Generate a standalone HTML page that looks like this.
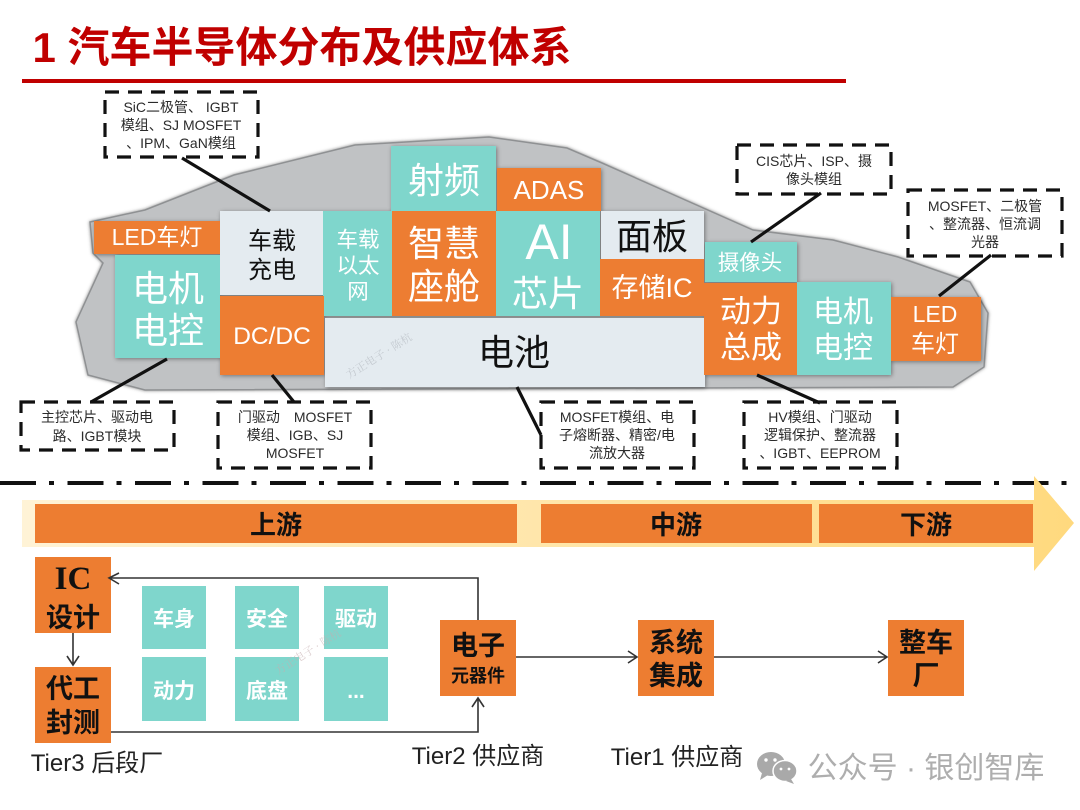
<!DOCTYPE html>
<html lang="zh">
<head>
<meta charset="utf-8">
<style>
html,body{margin:0;padding:0;background:#fff;width:1080px;height:810px;overflow:hidden}
svg{display:block;filter:blur(.35px)}
text{font-family:"Liberation Sans","Noto Sans CJK SC",sans-serif;text-anchor:middle}
.w{fill:#fff}
.k{fill:#111}
.s{font-size:14px;fill:#2b2b2b}
.b{font-weight:700;fill:#111}
.box{filter:url(#sh)}
.dash{fill:none;stroke:#111;stroke-width:3.2;stroke-dasharray:14 9}
.ln{stroke:#111;stroke-width:3.2;fill:none}
.cn{stroke:#333;stroke-width:1.6;fill:none}
</style>
</head>
<body>
<svg width="1080" height="810" viewBox="0 0 1080 810" xmlns="http://www.w3.org/2000/svg">
<defs>
<filter id="sh" x="-20%" y="-20%" width="140%" height="140%"><feDropShadow dx="1" dy="1" stdDeviation="2" flood-color="#000" flood-opacity=".4"/></filter>
<filter id="carsh" x="-5%" y="-5%" width="110%" height="110%"><feDropShadow dx="0" dy="0" stdDeviation="1.5" flood-color="#555" flood-opacity=".7"/></filter>
<linearGradient id="band" x1="0" x2="1" y1="0" y2="0"><stop offset="0" stop-color="#FFF3D6"/><stop offset="1" stop-color="#FFD97E"/></linearGradient>
</defs>

<text x="302" y="62" style="font-size:42px;font-weight:700;fill:#C00000">1 汽车半导体分布及供应体系</text>
<rect x="22" y="79" width="824" height="4" fill="#C00000"/>

<polygon points="90,222 145,210 234,175 355,145 489,137 567,148 602,163 753,230 833,240 898,257 970,282 988,313 984,367 953,387 145,390 88,375 76,322 103,263 93,253" fill="#C0C2C4" stroke="#8f9193" stroke-width="1.5" filter="url(#carsh)"/>

<g class="box">
<rect x="391" y="146" width="105" height="65" fill="#7FD6CC"/>
<rect x="497" y="168" width="104" height="43" fill="#ED7D31"/>
<rect x="94" y="221" width="126" height="33" fill="#ED7D31"/>
<rect x="115" y="255" width="105" height="103" fill="#7FD6CC"/>
<rect x="323" y="211" width="69" height="105" fill="#7FD6CC"/>
<rect x="220" y="211" width="103" height="84" fill="#E4EBF0"/>
<rect x="392" y="211" width="104" height="105" fill="#ED7D31"/>
<rect x="496" y="211" width="104" height="105" fill="#7FD6CC"/>
<rect x="325" y="318" width="380" height="69" fill="#E4EBF0"/>
<rect x="220" y="296" width="104" height="79" fill="#ED7D31"/>
<rect x="601" y="211" width="103" height="48" fill="#E4EBF0"/>
<rect x="600" y="259" width="104" height="57" fill="#ED7D31"/>
<rect x="705" y="242" width="92" height="40" fill="#7FD6CC"/>
<rect x="704" y="283" width="93" height="92" fill="#ED7D31"/>
<rect x="797" y="282" width="94" height="93" fill="#7FD6CC"/>
<rect x="891" y="297" width="90" height="64" fill="#ED7D31"/>
</g>

<text class="w" x="444" y="193" style="font-size:36px">射频</text>
<text class="w" x="549" y="199" style="font-size:26px">ADAS</text>
<text class="w" x="157" y="245" style="font-size:23px">LED车灯</text>
<text class="w" x="168" y="301" style="font-size:36px">电机</text>
<text class="w" x="168" y="343" style="font-size:36px">电控</text>
<text class="k" x="272" y="249" style="font-size:24px">车载</text>
<text class="k" x="272" y="278" style="font-size:24px">充电</text>
<text class="w" x="358" y="247" style="font-size:21.5px">车载</text>
<text class="w" x="358" y="273" style="font-size:21.5px">以太</text>
<text class="w" x="358" y="299" style="font-size:21.5px">网</text>
<text class="w" x="444" y="256" style="font-size:36px">智慧</text>
<text class="w" x="444" y="299" style="font-size:36px">座舱</text>
<text class="w" x="549" y="259" style="font-size:50px">AI</text>
<text class="w" x="548" y="306" style="font-size:36px">芯片</text>
<text class="k" x="652" y="249" style="font-size:36px">面板</text>
<text class="w" x="652" y="297" style="font-size:27px">存储IC</text>
<text class="w" x="272" y="344" style="font-size:24.5px">DC/DC</text>
<text class="k" x="514" y="365" style="font-size:36px">电池</text>
<text class="w" x="750" y="270" style="font-size:21.5px">摄像头</text>
<text class="w" x="751" y="322" style="font-size:31px">动力</text>
<text class="w" x="751" y="358" style="font-size:31px">总成</text>
<text class="w" x="843" y="322" style="font-size:30px">电机</text>
<text class="w" x="843" y="358" style="font-size:30px">电控</text>
<text class="w" x="935" y="322" style="font-size:23px">LED</text>
<text class="w" x="935" y="352" style="font-size:24px">车灯</text>
<text x="381" y="359" transform="rotate(-32 381 359)" style="font-size:11px;fill:#c4cad0;font-family:'Liberation Serif','Noto Serif CJK SC',serif">方正电子 · 陈杭</text>

<path class="ln" d="M182 158L270 211M167 359L91 402M272 375L294 402M517 387L541 435M821 193L751 242M991 255L939 296M757 375L820 403"/>

<rect class="dash" x="105" y="92" width="153" height="65"/>
<text class="s" x="181" y="112">SiC二极管、 IGBT</text>
<text class="s" x="181" y="130">模组、SJ MOSFET</text>
<text class="s" x="181" y="148">、IPM、GaN模组</text>

<rect class="dash" x="21" y="402" width="153" height="48"/>
<text class="s" x="97" y="422">主控芯片、驱动电</text>
<text class="s" x="97" y="441">路、IGBT模块</text>

<rect class="dash" x="218" y="402" width="153" height="66"/>
<text class="s" x="295" y="422">门驱动　MOSFET</text>
<text class="s" x="295" y="440">模组、IGB、SJ</text>
<text class="s" x="295" y="458">MOSFET</text>

<rect class="dash" x="541" y="402" width="153" height="66"/>
<text class="s" x="617" y="422">MOSFET模组、电</text>
<text class="s" x="617" y="440">子熔断器、精密/电</text>
<text class="s" x="617" y="458">流放大器</text>

<rect class="dash" x="744" y="402" width="153" height="66"/>
<text class="s" x="820" y="422">HV模组、门驱动</text>
<text class="s" x="820" y="440">逻辑保护、整流器</text>
<text class="s" x="820" y="458">、IGBT、EEPROM</text>

<rect class="dash" x="737" y="145" width="154" height="49"/>
<text class="s" x="814" y="166">CIS芯片、ISP、摄</text>
<text class="s" x="814" y="184">像头模组</text>

<rect class="dash" x="908" y="190" width="154" height="66"/>
<text class="s" x="985" y="211">MOSFET、二极管</text>
<text class="s" x="985" y="229">、整流器、恒流调</text>
<text class="s" x="985" y="247">光器</text>

<path d="M0 483H1080" stroke="#111" stroke-width="4" stroke-dasharray="36 13 5 13.5" fill="none"/>

<path d="M22 500H1034V476L1074 523L1034 571V547H22Z" fill="url(#band)"/>
<rect x="35" y="504" width="482" height="39" fill="#ED7D31"/>
<rect x="541" y="504" width="271" height="39" fill="#ED7D31"/>
<rect x="819" y="504" width="214" height="39" fill="#ED7D31"/>
<text class="b" x="276" y="534" style="font-size:26px">上游</text>
<text class="b" x="676" y="534" style="font-size:26px">中游</text>
<text class="b" x="926" y="534" style="font-size:26px">下游</text>

<rect x="35" y="557" width="76" height="76" fill="#ED7D31"/>
<rect x="35" y="667" width="76" height="76" fill="#ED7D31"/>
<rect x="440" y="620" width="76" height="76" fill="#ED7D31"/>
<rect x="638" y="620" width="76" height="76" fill="#ED7D31"/>
<rect x="888" y="620" width="76" height="76" fill="#ED7D31"/>
<g fill="#7FD6CC">
<rect x="142" y="586" width="64" height="63"/>
<rect x="235" y="586" width="64" height="63"/>
<rect x="324" y="586" width="64" height="63"/>
<rect x="142" y="657" width="64" height="64"/>
<rect x="235" y="657" width="64" height="64"/>
<rect x="324" y="657" width="64" height="64"/>
</g>
<text class="b" x="73" y="589" style="font-size:33px;font-family:'Liberation Serif',serif">IC</text>
<text class="b" x="73" y="627" style="font-size:27px">设计</text>
<text class="b" x="73" y="698" style="font-size:27px">代工</text>
<text class="b" x="73" y="732" style="font-size:27px">封测</text>
<text class="b" x="478" y="655" style="font-size:27px">电子</text>
<text class="b" x="478" y="682" style="font-size:18px">元器件</text>
<text class="b" x="676" y="652" style="font-size:27px">系统</text>
<text class="b" x="676" y="685" style="font-size:27px">集成</text>
<text class="b" x="926" y="652" style="font-size:27px">整车</text>
<text class="b" x="926" y="685" style="font-size:27px">厂</text>
<g style="font-size:21px;font-weight:700" fill="#fff">
<text x="174" y="626" fill="#fff">车身</text>
<text x="267" y="626" fill="#fff">安全</text>
<text x="356" y="626" fill="#fff">驱动</text>
<text x="174" y="698" fill="#fff">动力</text>
<text x="267" y="698" fill="#fff">底盘</text>
<text x="356" y="698" fill="#fff">...</text>
</g>
<text x="310" y="655" transform="rotate(-32 310 655)" style="font-size:11px;fill:#c5aeb0;opacity:.6;font-family:'Liberation Serif','Noto Serif CJK SC',serif">方正电子 · 陈杭</text>

<path class="cn" d="M478 620V578H110M119 573L109 578L119 584"/>
<path class="cn" d="M73 633V665M67 656L73 665L79 656"/>
<path class="cn" d="M111 732H478V698M472 707L478 698L484 707"/>
<path class="cn" d="M516 657H637M628 651L637 657L628 663"/>
<path class="cn" d="M714 657H887M878 651L887 657L878 663"/>

<text x="97" y="771" style="font-size:24px;fill:#222">Tier3 后段厂</text>
<text x="478" y="764" style="font-size:24px;fill:#222">Tier2 供应商</text>
<text x="677" y="765" style="font-size:24px;fill:#222">Tier1 供应商</text>

<ellipse cx="771" cy="764" rx="14" ry="12" fill="#a9a9a9"/>
<path d="M762 773L760 780L768 775Z" fill="#a9a9a9"/>
<ellipse cx="785" cy="771" rx="12" ry="10.5" fill="#a9a9a9" stroke="#fff" stroke-width="1.5"/>
<path d="M791 779L794 784L786 781Z" fill="#a9a9a9"/>
<circle cx="766" cy="760" r="1.7" fill="#fff"/><circle cx="775" cy="760" r="1.7" fill="#fff"/>
<circle cx="781" cy="769" r="1.4" fill="#fff"/><circle cx="789" cy="769" r="1.4" fill="#fff"/>
<text x="926" y="778" style="font-size:30px;fill:#aeaeae">公众号 · 银创智库</text>
</svg>
</body>
</html>
